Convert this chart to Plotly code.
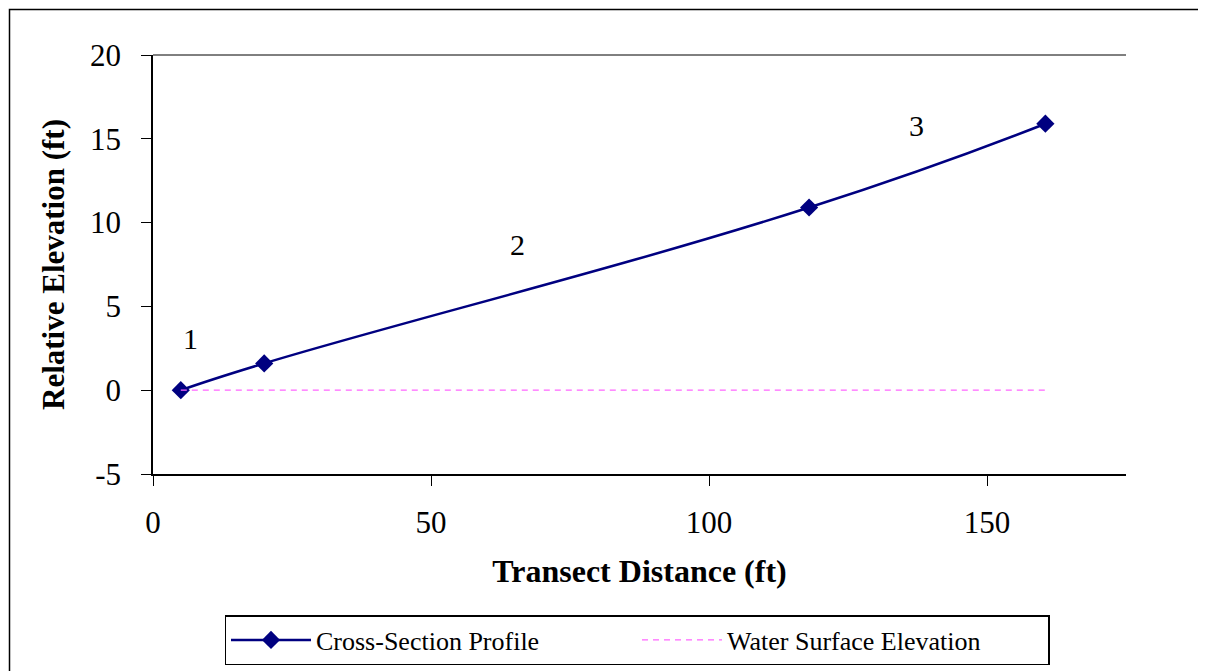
import plotly.graph_objects as go

# Data
profile_x = [5, 20, 118, 160.5]
profile_y = [0, 1.6, 10.9, 15.9]
water_x = [5, 160.5]
water_y = [0, 0]
label_text = ["1", "2", "3"]
label_x = [6.7, 65.6, 137.4]
label_y = [3.1, 8.7, 15.8]
y_ticks = [-5, 0, 5, 10, 15, 20]
y_tick_text = ["-5", "0", "5", "10", "15", "20"]
x_ticks = [0, 50, 100, 150]

FONT = "Liberation Serif, Times New Roman, serif"
NAVY = "#000080"
PINK = "#FF66FF"

# page body has an 8px margin; compensate so the plot lands where the reference has it
OFF = 8
W, H = 1206 - OFF, 671 - OFF
L, T, R, B = 153 - OFF, 55 - OFF, 80, 197
PW = W - L - R
PH = H - T - B

fig = go.Figure()
fig.add_trace(go.Scatter(
    x=profile_x, y=profile_y, mode="lines+markers", name="Cross-Section Profile",
    line=dict(color=NAVY, width=2.5, shape="spline", smoothing=1.3),
    marker=dict(symbol="diamond", size=14, color=NAVY),
))
fig.add_trace(go.Scatter(
    x=water_x, y=water_y, mode="lines", name="Water Surface Elevation",
    line=dict(color=PINK, width=1.2, dash="6px,5px"),
))

for t, xx, yy in zip(label_text, label_x, label_y):
    fig.add_annotation(x=xx, y=yy, text=t, showarrow=False,
                       font=dict(family=FONT, size=30, color="black"))

axis_common = dict(
    showgrid=False, zeroline=False, linecolor="black",
    tickfont=dict(family=FONT, size=31, color="black"),
)

fig.update_layout(
    width=W, height=H,
    paper_bgcolor="white", plot_bgcolor="white",
    margin=dict(l=L, r=R, t=T, b=B, autoexpand=False),
    font=dict(family=FONT, color="black"),
    xaxis=dict(
        **axis_common, range=[0, 175], tickvals=x_ticks,
        showline=True, linewidth=2, ticks="outside", ticklen=10, tickcolor="black",
        tickwidth=1, ticklabelstandoff=10,
        title=dict(text="<b>Transect Distance (ft)</b>",
                   font=dict(family=FONT, size=32, color="black"), standoff=20),
    ),
    yaxis=dict(
        **axis_common, range=[-5, 20], tickvals=y_ticks, ticktext=y_tick_text,
        showline=True, linewidth=1.5, ticks="outside", ticklen=10, tickcolor="black",
        tickwidth=1, ticklabelstandoff=14,
        title=dict(text="<b>Relative Elevation (ft)</b>",
                   font=dict(family=FONT, size=31, color="black"), standoff=16),
    ),
    yaxis2=dict(
        **axis_common, range=[-5, 20], tickvals=y_ticks, ticktext=y_tick_text,
        overlaying="y", side="right",
        showline=True, linewidth=1.5, ticks="outside", ticklen=10, tickcolor="black",
        tickwidth=1, ticklabelstandoff=12,
    ),
    yaxis3=dict(
        showgrid=False, zeroline=False, range=[-5, 20], tickvals=y_ticks,
        overlaying="y", side="right", showline=False, ticks="inside", ticklen=10,
        tickcolor="black", tickwidth=1, showticklabels=False,
    ),
    legend=dict(
        orientation="h", x=(637 - 153) / PW, xanchor="center",
        y=-(615 - 474) / PH, yanchor="top",
        bordercolor="black", borderwidth=1.5, bgcolor="white",
        font=dict(family=FONT, size=26, color="black"),
        itemwidth=80, entrywidth=316, tracegroupgap=0,
    ),
    showlegend=True,
)

# plot-area top border and outer chart border
fig.add_shape(type="line", xref="paper", yref="paper", x0=0, x1=1, y0=1, y1=1,
              line=dict(color="black", width=1))
fig.add_shape(type="rect", xref="paper", yref="paper",
              x0=(9.5 - 153) / PW, x1=1.3, y0=1 + (55 - 9.5) / PH, y1=-0.8,
              line=dict(color="black", width=1.5), layer="below")

fig.write_html("out.html")
